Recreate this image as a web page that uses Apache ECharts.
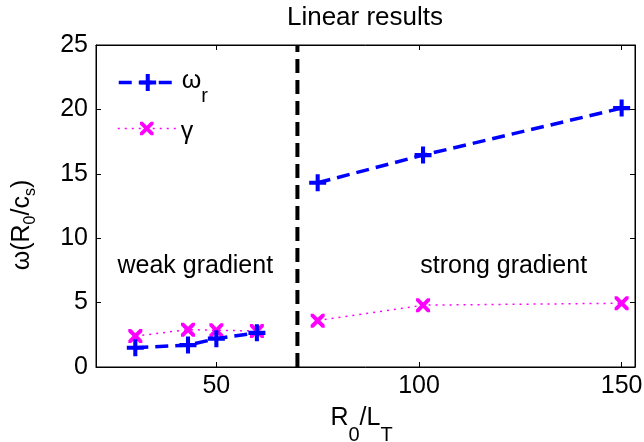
<!DOCTYPE html>
<html><head><meta charset="utf-8">
<script src="https://cdn.jsdelivr.net/npm/echarts@6/dist/echarts.min.js"></script>
<style>html,body{margin:0;padding:0;background:#fff}#c{width:644px;height:442px}</style>
</head><body><div id="c"></div>
<script>
// ---- data ----
const xWeak = [30, 43, 50, 60];
const omegaWeak = [1.5, 1.7, 2.2, 2.65];
const gammaWeak = [2.4, 2.9, 2.85, 2.8];
const xStrong = [75, 101, 150];
const omegaStrong = [14.3, 16.45, 20.1];
const gammaStrong = [3.6, 4.8, 4.95];
const xTicks = [50, 100, 150];
const yTicks = [0, 5, 10, 15, 20, 25];
const dividerX = [70, 70];
const dividerY = [0, 25];
const noteX = [44.8, 120.9];
const noteY = [7.85, 7.85];
const noteText = ['weak gradient', 'strong gradient'];
const xRange = [20.3, 153.3];
const yRange = [0, 25];

const FONT = 'Liberation Sans, Arial, Helvetica, sans-serif';
const zip = (a, b) => a.map((v, i) => [v, b[i]]);
// weak and strong regimes are drawn as separate segments (gap between them)
const segs = (xa, ya, xb, yb) => [...zip(xa, ya), '-', ...zip(xb, yb)];
const PLUS = 'path://M3.8,0H6.2V3.8H10V6.2H6.2V10H3.8V6.2H0V3.8H3.8Z';
const CROSS = 'path://M2,0L5,3L8,0L10,0L10,2L7,5L10,8L10,10L8,10L5,7L2,10L0,10L0,8L3,5L0,2L0,0Z';
const BLUE = '#0000ff', MAG = '#ff00ff';

const chart = echarts.init(document.getElementById('c'), null, {renderer: 'canvas'});

function xAx(pos, labels) {
  return {
    type: 'value', position: pos, min: xRange[0], max: xRange[1],
    axisLine: {show: true, onZero: false, lineStyle: {color: '#000', width: 1}},
    axisTick: {show: true, inside: true, length: 5, customValues: xTicks, lineStyle: {color: '#000'}},
    axisLabel: {show: labels, customValues: xTicks, margin: 7, fontSize: 25, color: '#000', fontFamily: FONT},
    splitLine: {show: false}
  };
}
function yAx(pos, labels) {
  return {
    type: 'value', position: pos, min: yRange[0], max: yRange[1], interval: 5,
    axisLine: {show: true, onZero: false, lineStyle: {color: '#000', width: 1}},
    axisTick: {show: true, inside: true, length: 5, lineStyle: {color: '#000'}},
    axisLabel: {show: labels, margin: 8, fontSize: 25, color: '#000', fontFamily: FONT},
    splitLine: {show: false}
  };
}

const xMain = xAx('bottom', true);
xMain.name = '{a|R}{s|0}{a|/L}{s|T}';
xMain.nameLocation = 'middle';
xMain.nameGap = 39;
xMain.nameTextStyle = {
  color: '#000', fontFamily: FONT, padding: [0, 8, 0, 0],
  rich: {
    a: {fontSize: 25, color: '#000', fontFamily: FONT, verticalAlign: 'top'},
    s: {fontSize: 20, color: '#000', fontFamily: FONT, verticalAlign: 'top', padding: [19, 0, 0, 0]}
  }
};
const yMain = yAx('left', true);
yMain.name = '{a|ω(R}{s|0}{a|/c}{s|s}{a|)}';
yMain.nameLocation = 'middle';
yMain.nameGap = 57;
yMain.nameTextStyle = {
  color: '#000', fontFamily: FONT, padding: [0, 38, 0, 0],
  rich: {
    a: {fontSize: 25, color: '#000', fontFamily: FONT, verticalAlign: 'top'},
    s: {fontSize: 16, color: '#000', fontFamily: FONT, verticalAlign: 'top', padding: [13, 0, 0, 0]}
  }
};

const option = {
  backgroundColor: '#fff',
  animation: false,
  title: {
    text: 'Linear results', left: 365, top: 5, padding: 0, textAlign: 'center',
    textStyle: {fontSize: 26, fontWeight: 'normal', color: '#000', fontFamily: FONT}
  },
  grid: {
    left: 96, right: 9, top: 45, bottom: 75, show: true, borderColor: '#000', borderWidth: 1,
    backgroundColor: '#fff', outerBoundsMode: 'none', containLabel: false
  },
  legend: [
    {
      data: ['ωr'], left: 117, top: 67, padding: 0, itemWidth: 58, itemHeight: 21,
      lineStyle: {width: 'inherit'},
      formatter: () => '{a|ω}{s|r}',
      textStyle: {
        color: '#000', fontFamily: FONT,
        rich: {
          a: {fontSize: 25, lineHeight: 31, color: '#000', fontFamily: FONT, verticalAlign: 'top', padding: [2, 0, 0, 0]},
          s: {fontSize: 20, lineHeight: 31, color: '#000', fontFamily: FONT, verticalAlign: 'top', padding: [19, 0, 0, 0]}
        }
      }
    },
    {
      data: ['γ'], left: 117, top: 116, padding: 0, itemWidth: 58, itemHeight: 17,
      lineStyle: {width: 'inherit'},
      formatter: () => '{g|γ}',
      textStyle: {
        color: '#000', fontFamily: FONT,
        rich: {
          g: {fontSize: 25, lineHeight: 25, color: '#000', fontFamily: FONT, verticalAlign: 'top', padding: [4, 0, 0, 0]}
        }
      }
    }
  ],
  xAxis: [xMain, xAx('top', false)],
  yAxis: [yMain, yAx('right', false)],
  series: [
    {
      name: 'divider', type: 'line', data: zip(dividerX, dividerY), symbol: 'none',
      lineStyle: {color: '#000', width: 4, type: [14, 7]}, silent: true, z: 1
    },
    {
      name: 'ωr', type: 'line', data: segs(xWeak, omegaWeak, xStrong, omegaStrong),
      connectNulls: false,
      symbol: PLUS, symbolSize: 17,
      itemStyle: {color: BLUE},
      lineStyle: {color: BLUE, width: 3.5, type: [13, 7]}, z: 3
    },
    {
      name: 'γ', type: 'line', data: segs(xWeak, gammaWeak, xStrong, gammaStrong),
      connectNulls: false,
      symbol: CROSS, symbolSize: 14,
      itemStyle: {color: MAG},
      lineStyle: {color: MAG, width: 1.5, type: [2, 5]}, z: 2
    },
    {
      name: 'notes', type: 'scatter', symbolSize: 1,
      data: noteX.map((x, i) => ({value: [x, noteY[i]], text: noteText[i]})),
      itemStyle: {color: 'rgba(0,0,0,0)', opacity: 1},
      label: {
        show: true, position: 'inside', fontSize: 25, color: '#000', fontFamily: FONT,
        formatter: p => p.data.text
      },
      silent: true
    }
  ]
};
chart.setOption(option);
</script>
</body></html>
